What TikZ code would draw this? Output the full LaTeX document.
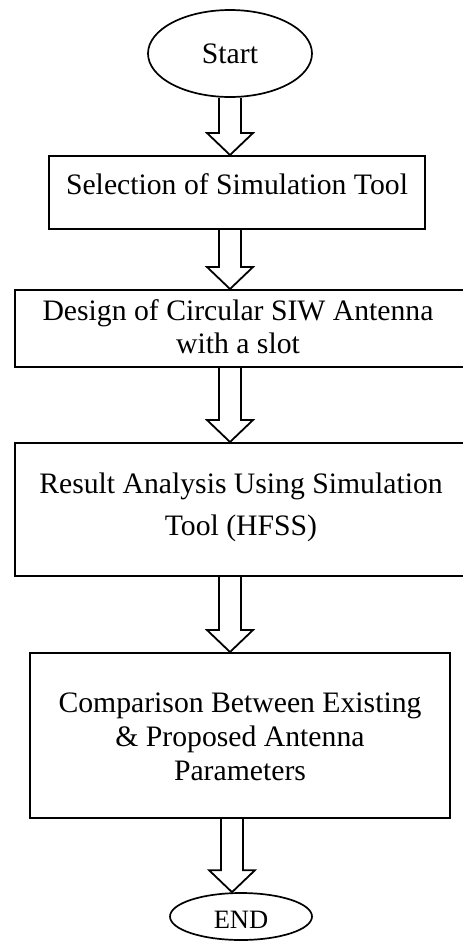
\documentclass[tikz,border=0pt]{standalone}
\usepackage{fontspec}
\setmainfont{Liberation Serif}
\usetikzlibrary{shapes.geometric,calc}
\newcommand{\blkarrow}[3]{%
  \draw[blk] let \p1=(#2.south), \p2=(#3.north) in
    (#1pt-11pt,\y1) -- (#1pt-11pt,\y2+22pt) -- (#1pt-23pt,\y2+22pt) -- (#1pt,\y2)
    -- (#1pt+23pt,\y2+22pt) -- (#1pt+11pt,\y2+22pt) -- (#1pt+11pt,\y1);}
\begin{document}
\begin{tikzpicture}[x=1pt,y=-1pt,
  box/.style={draw,line width=2pt,rectangle,inner sep=0pt},
  oval/.style={draw,line width=1.7pt,ellipse,inner sep=0pt},
  txt/.style={anchor=base,inner sep=0pt,font=\fontsize{29.7}{34}\selectfont},
  blk/.style={draw,line width=1.8pt,line join=miter}]
\clip (0,0) rectangle (463,943);
\fill[white] (0,0) rectangle (463,943);
\node[oval,minimum width=164pt,minimum height=87pt] (start) at (230,53.5) {};
\node[txt] (tstart) at (230,63) {Start};
\node[box,minimum width=376pt,minimum height=73pt] (b1) at (237,192.5) {};
\node[txt] (t1) at (237,194) {Selection of Simulation Tool};
\node[box,minimum width=455pt,minimum height=77pt] (b2) at (242.5,328.5) {};
\node[txt] (t2a) at (238,320) {Design of Circular SIW Antenna};
\node[txt] (t2b) at (238,353) {with a slot};
\node[box,minimum width=455pt,minimum height=133pt] (b3) at (242.5,509.5) {};
\node[txt] (t3a) at (241,493) {Result Analysis Using Simulation};
\node[txt] (t3b) at (241,535) {Tool (HFSS)};
\node[box,minimum width=420pt,minimum height=165pt] (b4) at (240,735.5) {};
\node[txt] (t4a) at (240,712) {Comparison Between Existing};
\node[txt] (t4b) at (240,746) {\& Proposed Antenna};
\node[txt] (t4c) at (240,780) {Parameters};
\node[oval,minimum width=142pt,minimum height=47pt] (end) at (241,916.5) {};
\node[txt,font=\fontsize{26.5}{30}\selectfont] (tend) at (241,928) {END};
\blkarrow{230}{start}{b1}
\blkarrow{230}{b1}{b2}
\blkarrow{230}{b2}{b3}
\blkarrow{230}{b3}{b4}
\blkarrow{232}{b4}{end}
\end{tikzpicture}
\end{document}
